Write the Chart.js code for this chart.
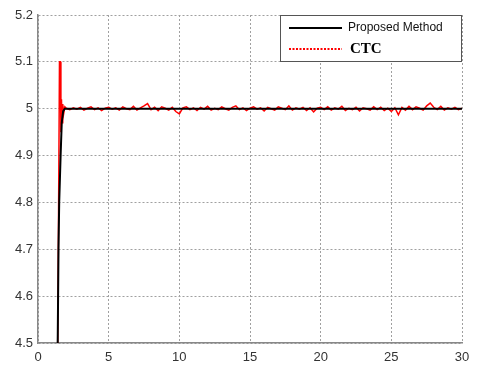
<!DOCTYPE html>
<html>
<head>
<meta charset="utf-8">
<script src="https://cdn.jsdelivr.net/npm/chart.js@4"></script>
<style>
  html, body { margin: 0; padding: 0; background: #fff; }
  #wrap { width: 479px; height: 378px; }
</style>
</head>
<body>
<div id="wrap"><canvas id="c" width="479" height="378"></canvas></div>
<script>
// tiempos y valores
const proposedTime = [1.30, 1.38, 1.45, 1.50, 1.60, 1.68, 1.78, 1.90, 30];
const proposedValue = [4.30, 4.45, 4.70, 4.80, 4.90, 4.97, 4.995, 5.0, 5.0];

const ctcTime = [
  1.35, 1.45, 1.52, 1.58, 1.62, 1.66, 1.70, 1.75, 1.82, 1.90,
  2.00, 2.25, 2.50, 2.75, 3.00, 3.25, 3.50, 3.75, 4.00, 4.25, 4.50, 4.75,
  5.00, 5.25, 5.50, 5.75, 6.00, 6.25, 6.50, 6.75, 7.00, 7.25, 7.50, 7.75,
  8.00, 8.25, 8.50, 8.75, 9.00, 9.25, 9.50, 9.75, 10.00, 10.25, 10.50, 10.75,
  11.00, 11.25, 11.50, 11.75, 12.00, 12.25, 12.50, 12.75, 13.00, 13.25, 13.50, 13.75,
  14.00, 14.25, 14.50, 14.75, 15.00, 15.25, 15.50, 15.75, 16.00, 16.25, 16.50, 16.75,
  17.00, 17.25, 17.50, 17.75, 18.00, 18.25, 18.50, 18.75, 19.00, 19.25, 19.50, 19.75,
  20.00, 20.25, 20.50, 20.75, 21.00, 21.25, 21.50, 21.75, 22.00, 22.25, 22.50, 22.75,
  23.00, 23.25, 23.50, 23.75, 24.00, 24.25, 24.50, 24.75, 25.00, 25.25, 25.50, 25.75,
  26.00, 26.25, 26.50, 26.75, 27.00, 27.25, 27.50, 27.75, 28.00, 28.25, 28.50, 28.75,
  29.00, 29.25, 29.50, 29.75, 30.00
];
const ctcValue = [
  4.30, 4.75, 5.10, 5.10, 4.95, 5.02, 4.97, 5.01, 4.99, 5.004,
  5.001, 4.998, 5.002, 4.999, 5.003, 4.997, 5.001, 5.004, 4.998, 5.002, 4.996, 5.001,
  5.003, 4.999, 5.002, 4.997, 5.004, 5.000, 4.998, 5.005, 4.997, 5.002, 5.006, 5.011,
  4.998, 5.003, 4.996, 5.004, 5.001, 4.997, 5.003, 4.994, 4.989, 5.002, 5.004, 4.998,
  5.002, 4.996, 5.003, 4.999, 5.005, 4.997, 5.001, 4.998, 5.004, 5.000, 4.997, 5.003,
  5.006, 4.998, 5.002, 4.996, 5.001, 5.004, 4.999, 5.002, 4.995, 5.003, 5.000, 4.997,
  5.004, 5.001, 4.998, 5.006, 4.997, 5.002, 4.999, 5.003, 4.996, 5.002, 4.993, 5.001,
  5.003, 4.998, 5.004, 4.997, 5.002, 4.999, 5.005, 4.996, 5.001, 4.998, 5.003, 4.995,
  5.002, 5.000, 4.997, 5.004, 4.998, 5.003, 4.996, 5.001, 4.994, 5.002, 4.987, 5.003,
  4.997, 5.005, 4.998, 5.004, 5.001, 4.997, 5.006, 5.012, 5.003, 4.998, 5.005, 4.997,
  5.002, 4.999, 5.003, 4.998, 5.001
];

const xTicks = [0, 5, 10, 15, 20, 25, 30];
const yTicks = [4.5, 4.6, 4.7, 4.8, 4.9, 5, 5.1, 5.2];

const toPoints = (t, v) => t.map((x, i) => ({ x: x, y: v[i] }));
const fuente = '"Liberation Sans", Arial, sans-serif';

// leyenda dibujada a mano (fuentes distintas por serie)
const legendaPlugin = {
  id: 'legenda',
  afterDraw(chart) {
    const c = chart.ctx;
    const a = chart.chartArea;
    const x0 = 280, y0 = a.top, w = a.right - x0, h = 47;
    c.save();
    c.fillStyle = '#fff';
    c.fillRect(x0, y0, w, h);
    c.strokeStyle = '#555';
    c.lineWidth = 1;
    c.strokeRect(x0 + 0.5, y0 + 0.5, w - 1, h - 1);
    // proposed
    c.strokeStyle = '#000';
    c.lineWidth = 2;
    c.beginPath(); c.moveTo(x0 + 9, y0 + 13); c.lineTo(x0 + 62, y0 + 13); c.stroke();
    c.fillStyle = '#111';
    c.font = '12px ' + fuente;
    c.textBaseline = 'middle';
    c.fillText(chart.data.datasets[0].label, x0 + 68, y0 + 13);
    // ctc
    c.strokeStyle = '#ff0000';
    c.lineWidth = 2;
    c.setLineDash([2, 1.5]);
    c.beginPath(); c.moveTo(x0 + 9, y0 + 34); c.lineTo(x0 + 62, y0 + 34); c.stroke();
    c.setLineDash([]);
    c.fillStyle = '#000';
    c.font = 'bold 15px "Liberation Serif", "Times New Roman", serif';
    c.fillText(chart.data.datasets[1].label, x0 + 70, y0 + 34);
    c.restore();
  }
};

const ctx = document.getElementById('c').getContext('2d');
const grafico = new Chart(ctx, {
  type: 'line',
  data: {
    datasets: [{
      label: 'Proposed Method',
      data: toPoints(proposedTime, proposedValue),
      borderColor: '#000',
      borderWidth: 2,
      pointRadius: 0,
      tension: 0
    }, {
      label: 'CTC',
      data: toPoints(ctcTime, ctcValue),
      borderColor: '#ff0000',
      borderWidth: 1.5,
      pointRadius: 0,
      tension: 0
    }]
  },
  options: {
    responsive: false,
    animation: false,
    layout: { padding: { top: 15, right: 17, left: 0, bottom: 0 } },
    plugins: { legend: { display: false }, tooltip: { enabled: false } },
    scales: {
      x: {
        type: 'linear',
        min: 0, max: 30,
        afterBuildTicks: s => { s.ticks = xTicks.map(v => ({ value: v })); },
        afterFit: s => { s.height = 35; },
        grid: { color: '#a0a0a0', drawTicks: false, lineWidth: 1 },
        border: { color: '#888', width: 1.5, dash: [2, 2] },
        ticks: { color: '#333', padding: 7, font: { size: 13, family: fuente }, maxRotation: 0,
                 callback: v => String(v) }
      },
      y: {
        min: 4.5, max: 5.2,
        afterBuildTicks: s => { s.ticks = yTicks.map(v => ({ value: v })); },
        afterFit: s => { s.width = 38; },
        grid: { color: '#a0a0a0', drawTicks: false, lineWidth: 1 },
        border: { color: '#888', width: 1.5, dash: [2, 2] },
        ticks: { color: '#333', padding: 5, font: { size: 13, family: fuente },
                 callback: v => String(Math.round(v * 10) / 10) }
      }
    }
  },
  plugins: [legendaPlugin]
});
</script>
</body>
</html>
